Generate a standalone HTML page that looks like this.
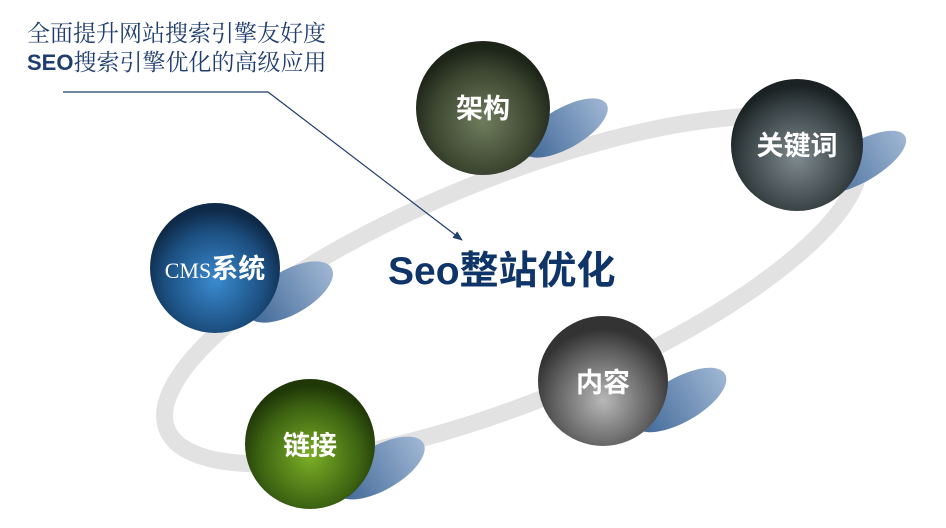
<!DOCTYPE html>
<html><head><meta charset="utf-8"><style>
html,body{margin:0;padding:0;background:#fff;}
svg{display:block}
</style></head><body>
<svg width="946" height="528" viewBox="0 0 946 528" xmlns="http://www.w3.org/2000/svg">
<defs>
<radialGradient id="gA" cx="0.5" cy="0.6" r="0.55"><stop offset="0" stop-color="#6f7d5c"/><stop offset="0.7" stop-color="#3b4530"/><stop offset="1" stop-color="#1d2418"/></radialGradient>
<radialGradient id="gK" cx="0.5" cy="0.6" r="0.55"><stop offset="0" stop-color="#7f8a8e"/><stop offset="0.7" stop-color="#3c4649"/><stop offset="1" stop-color="#1b2224"/></radialGradient>
<radialGradient id="gC" cx="0.5" cy="0.6" r="0.55"><stop offset="0" stop-color="#3a8ad0"/><stop offset="0.7" stop-color="#1c4f80"/><stop offset="1" stop-color="#0e2a48"/></radialGradient>
<radialGradient id="gN" cx="0.5" cy="0.65" r="0.55"><stop offset="0" stop-color="#b8b8b8"/><stop offset="0.7" stop-color="#5e5e5e"/><stop offset="1" stop-color="#333"/></radialGradient>
<radialGradient id="gL" cx="0.5" cy="0.6" r="0.55"><stop offset="0" stop-color="#7cae26"/><stop offset="0.7" stop-color="#3d6412"/><stop offset="1" stop-color="#203808"/></radialGradient>
<linearGradient id="sh" x1="0" y1="0" x2="1" y2="0"><stop offset="0" stop-color="#3f6797"/><stop offset="1" stop-color="#9fb6d3"/></linearGradient>
<marker id="ar" markerWidth="10" markerHeight="8" refX="9" refY="4" orient="auto" markerUnits="userSpaceOnUse"><path d="M0,0 L10,4 L0,8 z" fill="#1f3d6e"/></marker>
</defs>
<ellipse cx="512" cy="290" rx="372" ry="112" transform="rotate(-22 512 290)" fill="none" stroke="#e2e2e2" stroke-width="17"/>
<ellipse cx="565" cy="128" rx="48" ry="20" transform="rotate(-30 565 128)" fill="url(#sh)"/>
<ellipse cx="860" cy="162" rx="52" ry="20" transform="rotate(-30 860 162)" fill="url(#sh)"/>
<ellipse cx="290" cy="292" rx="48" ry="22" transform="rotate(-30 290 292)" fill="url(#sh)"/>
<ellipse cx="680" cy="400" rx="52" ry="22" transform="rotate(-30 680 400)" fill="url(#sh)"/>
<ellipse cx="380" cy="468" rx="50" ry="22" transform="rotate(-30 380 468)" fill="url(#sh)"/>
<circle cx="483" cy="108" r="67" fill="url(#gA)"/>
<circle cx="797" cy="145" r="66" fill="url(#gK)"/>
<circle cx="215" cy="268" r="65" fill="url(#gC)"/>
<circle cx="603" cy="381" r="65" fill="url(#gN)"/>
<circle cx="310" cy="444" r="65" fill="url(#gL)"/>
<g font-family="'Liberation Sans','Noto Sans CJK SC',sans-serif" font-weight="bold" fill="#fff" font-size="27" text-anchor="middle">
<text x="483" y="118">架构</text>
<text x="797" y="155">关键词</text>
<text x="310" y="455">链接</text>
<text x="603" y="392">内容</text>
<text x="215" y="278"><tspan font-family="'Liberation Serif',serif" font-weight="normal" font-size="22">CMS</tspan>系统</text>
</g>
<text x="388" y="284" font-family="'Liberation Sans','Noto Sans CJK SC',sans-serif" font-weight="bold" font-size="39" fill="#0f3467">Seo整站优化</text>
<text x="27" y="41" font-family="'Liberation Serif','Noto Serif CJK SC',serif" font-size="23" fill="#1f3d6e">全面提升网站搜索引擎友好度</text>
<text x="27" y="70" font-family="'Liberation Sans','Noto Serif CJK SC',serif" font-size="23" fill="#1f3d6e"><tspan font-weight="bold" font-size="22">SEO</tspan>搜索引擎优化的高级应用</text>
<polyline points="63,92 268,92 462,240" fill="none" stroke="#1f3d6e" stroke-width="1.2" marker-end="url(#ar)"/>
</svg>
</body></html>
